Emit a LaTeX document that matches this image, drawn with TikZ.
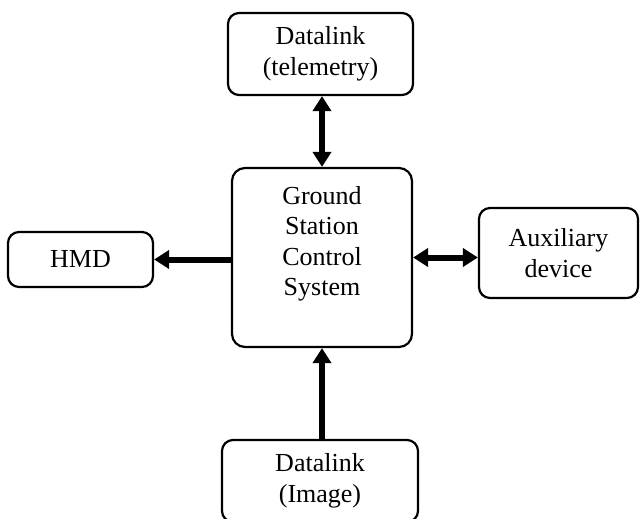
\documentclass[tikz,border=0pt]{standalone}
\usepackage{fontspec}
\setmainfont{Liberation Serif}
\usetikzlibrary{arrows.meta,calc}
\begin{document}
\begin{tikzpicture}[x=1pt,y=-1pt,
  box/.style={draw,line width=2.2pt,rounded corners=11pt,align=center,
    font=\fontsize{26}{30.5}\selectfont,inner sep=0pt},
  lbl/.style={align=center,font=\fontsize{26}{30.5}\selectfont,inner sep=0pt},
  arr/.style={line width=6pt,-{Triangle[length=15pt,width=18pt]}},
  darr/.style={line width=6pt,{Triangle[length=15pt,width=18pt]}-{Triangle[length=15pt,width=18pt]}}]
\useasboundingbox (0,0) rectangle (641,519);
\node[box,minimum width=185pt,minimum height=82pt] (top) at (320.5,54) {Datalink\\(telemetry)};
\node[box,minimum width=180pt,minimum height=179pt,rounded corners=13pt] (gcs) at (322,257.5) {};
\node[lbl] (gcstxt) at (322,244) {Ground\\Station\\Control\\System};
\node[box,minimum width=145pt,minimum height=55pt] (hmd) at (80.5,259.5) {HMD};
\node[box,minimum width=159pt,minimum height=90pt] (aux) at (558.5,253) {Auxiliary\\device};
\node[box,minimum width=196pt,minimum height=82pt] (bot) at (320,481) {Datalink\\(Image)};
\coordinate (tj) at (gcs.north |- top.south);
\draw[darr] (tj) -- (gcs.north);
\coordinate (hj) at (gcs.west |- hmd.east);
\draw[arr] (hj) -- (hmd.east);
\coordinate (aj) at (gcs.east -| aux.west);
\draw[darr] (gcs.east) -- (aj);
\coordinate (bj) at (gcs.south |- bot.north);
\draw[arr] (bj) -- (gcs.south);
\end{tikzpicture}
\end{document}
